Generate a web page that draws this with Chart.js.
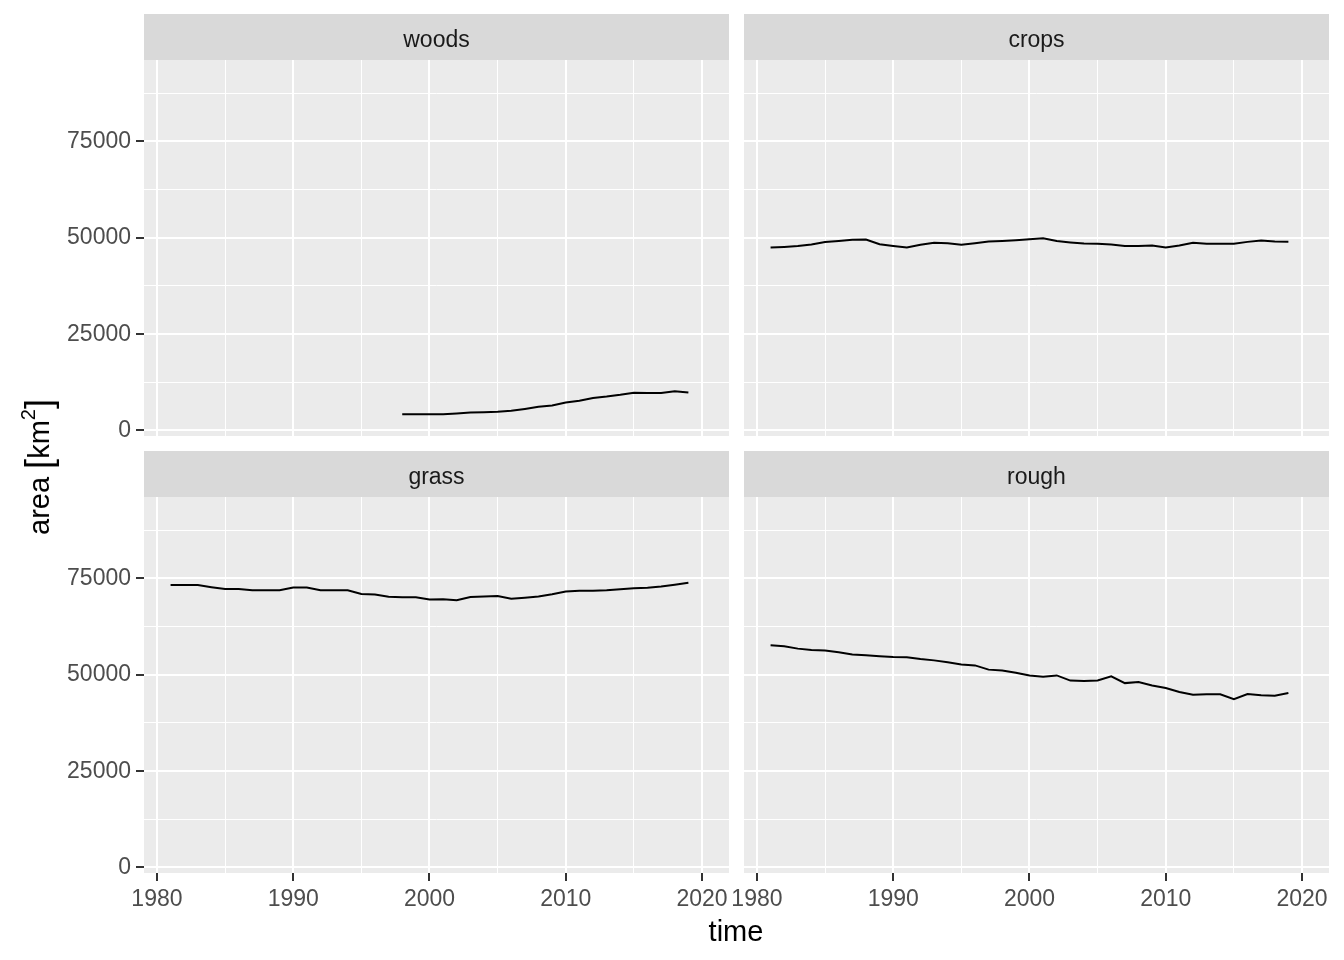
<!DOCTYPE html>
<html>
<head>
<meta charset="utf-8">
<title>Land use area by type</title>
<script src="https://cdn.jsdelivr.net/npm/chart.js@4.4.1/dist/chart.umd.min.js"></script>
<style>
  body { margin: 0; background: #ffffff; }
  #wrap { position: relative; width: 1344px; height: 960px; overflow: hidden;
          font-family: "Liberation Sans", Arial, sans-serif; }
  #wrap canvas { position: absolute; }
  .xtitle { position: absolute; left: 636px; width: 200px; top: 914px; height: 34px;
            line-height: 34px; text-align: center; font-size: 29px; color: #000; }
  .ytitle { position: absolute; left: 37px; top: 467px; white-space: nowrap;
            font-size: 29px; color: #000;
            transform: translate(-50%, -50%) rotate(-90deg); }
  .ytitle sup { font-size: 20px; position: relative; top: -3px; }
  .ytitle .br { font-size: 36px; position: relative; top: 2px; }
</style>
</head>
<body>
<div id="wrap">
  <canvas id="woods" width="734" height="442" style="left:0px; top:14px;"></canvas>
  <canvas id="crops" width="634" height="442" style="left:700px; top:14px;"></canvas>
  <canvas id="grass" width="734" height="464" style="left:0px; top:451px;"></canvas>
  <canvas id="rough" width="634" height="464" style="left:700px; top:451px;"></canvas>
  <div class="xtitle">time</div>
  <div class="ytitle">area <span class="br">[</span>km<sup>2</sup><span class="br">]</span></div>
</div>
<script>
// data (km2 per year)
const years = [1981, 1982, 1983, 1984, 1985, 1986, 1987, 1988, 1989, 1990,
               1991, 1992, 1993, 1994, 1995, 1996, 1997, 1998, 1999, 2000,
               2001, 2002, 2003, 2004, 2005, 2006, 2007, 2008, 2009, 2010,
               2011, 2012, 2013, 2014, 2015, 2016, 2017, 2018, 2019];
const woodsYears = [1998, 1999, 2000, 2001, 2002, 2003, 2004, 2005, 2006, 2007, 2008,
                    2009, 2010, 2011, 2012, 2013, 2014, 2015, 2016, 2017, 2018, 2019];

const woods = [4200, 4200, 4200, 4200, 4400, 4650, 4750, 4850, 5100, 5600, 6150,
               6500, 7250, 7700, 8450, 8800, 9250, 9800, 9700, 9700, 10200, 9850];
const crops = [47500, 47650, 47850, 48250, 48900, 49200, 49500, 49550, 48350, 47900,
               47500, 48200, 48700, 48600, 48200, 48600, 49050, 49200, 49400, 49650,
               49900, 49150, 48800, 48500, 48450, 48250, 47850, 47850, 48000, 47500,
               48000, 48700, 48450, 48450, 48450, 48950, 49300, 49050, 48950];
const grass = [73300, 73300, 73300, 72750, 72250, 72250, 71950, 71950, 71950, 72650,
               72650, 71950, 71950, 71950, 71000, 70850, 70250, 70150, 70150, 69550,
               69600, 69350, 70200, 70300, 70450, 69750, 70000, 70300, 70900, 71600,
               71850, 71850, 71950, 72200, 72450, 72600, 72950, 73400, 73900];
const rough = [57700, 57400, 56800, 56450, 56300, 55850, 55300, 55050, 54800, 54600,
               54550, 54100, 53750, 53250, 52700, 52450, 51350, 51100, 50550, 49800,
               49500, 49850, 48500, 48400, 48550, 49600, 47850, 48150, 47250, 46600,
               45550, 44850, 44950, 44950, 43700, 45000, 44700, 44600, 45300];

// major + minor breaks
const xTicks = [1980, 1985, 1990, 1995, 2000, 2005, 2010, 2015, 2020];
const yTicks = [0, 12500, 25000, 37500, 50000, 62500, 75000, 87500];

const FONT = '"Liberation Sans", Arial, sans-serif';

// panel background + facet strip
const panelPlugin = {
    id: 'panel',
    beforeDraw(chart, args, opts) {
        const a = chart.chartArea;
        const ctx = chart.ctx;
        ctx.save();
        ctx.fillStyle = '#EBEBEB';
        ctx.fillRect(a.left, a.top, a.right - a.left, a.bottom - a.top);
        ctx.fillStyle = '#D9D9D9';
        ctx.fillRect(a.left, a.top - 46, a.right - a.left, 46);
        ctx.fillStyle = '#1A1A1A';
        ctx.font = '23px ' + FONT;
        ctx.textAlign = 'center';
        ctx.textBaseline = 'middle';
        ctx.fillText(opts.title, (a.left + a.right) / 2, a.top - 19);
        ctx.restore();
    }
};

function makePanel(id, title, xs, ys, showY, showX) {
    const points = xs.map((x, i) => ({ x: x, y: ys[i] }));
    return new Chart(document.getElementById(id), {
        type: 'line',
        data: {
            datasets: [{
                data: points,
                borderColor: '#000000',
                borderWidth: 2,
                pointRadius: 0,
                tension: 0,
                fill: false
            }]
        },
        options: {
            responsive: false,
            animation: false,
            events: [],
            layout: {
                padding: { left: showY ? 0 : 44, right: 5, top: 46, bottom: showX ? 0 : 20 }
            },
            plugins: {
                legend: { display: false },
                tooltip: { enabled: false },
                panel: { title: title }
            },
            scales: {
                x: {
                    type: 'linear',
                    min: 1979.05,
                    max: 2021.98,
                    border: { display: false },
                    afterBuildTicks: s => { s.ticks = xTicks.map(v => ({ value: v })); },
                    afterFit: s => { s.height = showX ? 42 : 0; },
                    grid: {
                        color: '#FFFFFF',
                        lineWidth: c => (c.tick && c.tick.value % 10 === 0) ? 2 : 1,
                        drawTicks: showX,
                        tickLength: 8,
                        tickWidth: 2,
                        tickColor: c => (c.tick && c.tick.value % 10 === 0) ? '#333333' : 'rgba(0,0,0,0)'
                    },
                    ticks: {
                        display: showX,
                        autoSkip: false,
                        maxRotation: 0,
                        minRotation: 0,
                        padding: 5,
                        color: '#4D4D4D',
                        font: { family: FONT, size: 23 },
                        callback: v => v % 10 === 0 ? String(v) : ''
                    }
                },
                y: {
                    type: 'linear',
                    min: -1430,
                    max: 96150,
                    border: { display: false },
                    afterBuildTicks: s => { s.ticks = yTicks.map(v => ({ value: v })); },
                    afterFit: s => { s.width = showY ? 144 : 0; },
                    grid: {
                        color: '#FFFFFF',
                        lineWidth: c => (c.tick && c.tick.value % 25000 === 0) ? 2 : 1,
                        drawTicks: showY,
                        tickLength: 8,
                        tickWidth: 2,
                        tickColor: c => (c.tick && c.tick.value % 25000 === 0) ? '#333333' : 'rgba(0,0,0,0)'
                    },
                    ticks: {
                        display: showY,
                        autoSkip: false,
                        padding: 5,
                        color: '#4D4D4D',
                        font: { family: FONT, size: 23 },
                        callback: v => v % 25000 === 0 ? String(v) : ''
                    }
                }
            }
        },
        plugins: [panelPlugin]
    });
}

makePanel('woods', 'woods', woodsYears, woods, true, false);
makePanel('crops', 'crops', years, crops, false, false);
makePanel('grass', 'grass', years, grass, true, true);
makePanel('rough', 'rough', years, rough, false, true);
</script>
</body>
</html>
